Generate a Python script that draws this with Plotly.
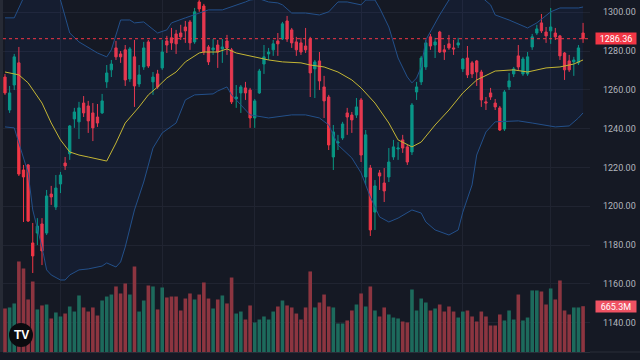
import plotly.graph_objects as go

# ---------------- data ----------------
opens = [1266.6,1249.6,1262.5,1273.9,1218.7,1221.3,1181.1,1186.2,1190.9,1186.2,
1206.3,1199.6,1211.5,1222.3,1227.0,1245.0,1243.5,1253.2,1251.7,1248.1,
1246.0,1248.1,1264.1,1270.3,1281.6,1278.5,1280.6,1265.6,1277.0,1263.0,
1271.8,1284.7,1264.1,1268.2,1271.3,1285.2,1286.8,1288.8,1289.3,1292.4,
1295.0,1284.7,1305.3,1303.2,1282.1,1280.6,1283.1,1281.1,1285.2,1280.6,
1255.3,1258.4,1261.0,1259.9,1245.5,1258.4,1273.3,1278.5,1280.6,1285.2,
1286.2,1295.5,1290.9,1284.7,1284.2,1282.6,1286.2,1270.8,1274.9,1261.5,
1256.3,1225.4,1232.6,1235.2,1248.1,1247.0,1247.0,1254.8,1215.1,1219.7,
1197.0,1217.2,1212.0,1215.1,1225.4,1229.5,1234.2,1230.6,1228.0,1258.9,
1264.1,1271.8,1287.3,1283.1,1289.8,1280.6,1283.7,1281.6,1283.1,1270.8,
1276.4,1273.9,1274.9,1269.2,1253.8,1258.4,1253.2,1250.7,1239.8,1261.5,
1268.2,1277.5,1268.2,1268.2,1282.1,1289.3,1294.5,1289.8,1290.4,1289.3,
1287.8,1279.0,1274.9,1274.4,1273.9,1289.3]

highs = [1268.2,1262.0,1278.5,1282.1,1221.3,1221.8,1191.4,1193.9,1193.9,1208.4,
1210.5,1216.1,1217.7,1225.4,1241.9,1250.7,1253.8,1256.8,1254.3,1253.2,
1252.7,1257.9,1272.8,1275.4,1285.2,1280.0,1283.1,1282.1,1285.7,1272.8,
1284.7,1285.7,1269.2,1270.3,1285.7,1287.8,1291.9,1290.9,1293.5,1295.5,
1296.0,1302.2,1306.3,1304.3,1283.1,1286.2,1285.7,1286.2,1288.3,1281.6,
1262.5,1262.5,1264.1,1261.0,1255.3,1270.8,1283.1,1281.6,1285.7,1289.3,
1295.0,1298.1,1291.9,1287.3,1286.8,1291.9,1287.3,1275.4,1279.5,1267.2,
1257.4,1241.9,1236.8,1243.5,1250.7,1248.6,1255.8,1255.8,1239.3,1221.3,
1213.5,1218.7,1219.7,1230.0,1234.2,1233.1,1236.8,1231.6,1253.2,1264.1,
1277.5,1285.7,1288.8,1286.8,1290.4,1283.1,1288.3,1285.7,1286.8,1276.4,
1282.6,1274.9,1275.4,1270.3,1256.3,1261.0,1255.3,1251.7,1259.9,1268.7,
1271.8,1283.1,1277.0,1279.5,1288.8,1293.5,1299.1,1292.4,1302.2,1291.9,
1288.3,1279.5,1278.0,1277.0,1283.1,1294.5]

lows = [1257.4,1248.1,1259.9,1215.6,1191.9,1191.9,1165.6,1180.0,1169.7,1185.2,
1200.7,1198.1,1206.8,1218.7,1223.9,1240.4,1234.7,1246.0,1237.8,1233.6,
1240.9,1247.6,1261.0,1266.6,1275.4,1273.9,1262.0,1264.1,1251.2,1261.5,
1270.3,1271.3,1257.4,1260.5,1270.3,1279.0,1280.6,1278.5,1285.7,1284.2,
1280.6,1283.7,1300.2,1278.0,1272.8,1278.0,1271.3,1273.9,1278.0,1252.7,
1250.7,1248.1,1254.8,1240.4,1240.4,1257.9,1268.2,1275.4,1277.5,1277.5,
1285.7,1284.7,1281.6,1277.5,1278.0,1279.0,1256.3,1255.8,1259.9,1245.5,
1229.0,1218.7,1229.0,1234.2,1236.8,1237.8,1245.5,1222.8,1211.0,1184.7,
1187.8,1208.4,1202.2,1212.5,1223.9,1223.9,1227.5,1221.3,1226.4,1254.8,
1262.5,1270.3,1280.6,1276.4,1279.0,1275.4,1280.6,1278.0,1281.6,1269.2,
1266.1,1266.1,1262.0,1251.2,1249.6,1254.8,1249.6,1238.8,1238.8,1259.9,
1266.6,1270.3,1267.2,1267.2,1280.6,1288.3,1289.3,1284.2,1283.7,1285.7,
1275.4,1265.1,1269.2,1267.2,1272.8,1284.2]

closes = [1258.4,1258.4,1277.0,1216.6,1215.1,1192.4,1174.4,1189.8,1177.0,1205.3,
1204.8,1209.4,1216.1,1220.8,1241.4,1248.6,1250.7,1248.1,1244.0,1240.4,
1242.9,1254.3,1268.7,1273.3,1277.0,1277.0,1265.1,1281.1,1262.0,1267.7,
1281.6,1272.3,1266.6,1261.5,1279.5,1283.1,1284.2,1283.7,1287.3,1290.4,
1284.2,1300.2,1301.7,1279.5,1274.4,1281.6,1279.5,1282.1,1281.6,1253.8,
1256.3,1261.5,1258.4,1245.5,1254.3,1269.7,1277.0,1279.5,1283.7,1283.7,
1294.0,1286.2,1284.2,1280.6,1279.5,1280.6,1268.7,1274.4,1264.6,1254.3,
1231.6,1238.3,1233.1,1242.4,1246.0,1244.5,1251.2,1226.4,1236.8,1187.8,
1210.5,1215.6,1207.9,1222.8,1230.6,1230.0,1230.0,1222.8,1252.2,1261.5,
1276.4,1284.2,1282.6,1284.7,1279.5,1279.5,1281.6,1281.1,1284.2,1275.9,
1267.7,1268.2,1269.2,1254.8,1253.2,1256.3,1251.2,1239.3,1258.9,1264.6,
1270.8,1271.8,1275.9,1277.0,1287.3,1291.4,1290.4,1287.8,1292.4,1287.3,
1277.5,1270.3,1270.3,1275.4,1281.6,1286.36]

volumes_m = [632,647,705,1315,1213,763,1024,618,676,690,
487,574,516,559,661,588,821,647,588,647,
530,748,806,835,952,850,995,835,1242,588,
748,966,952,618,937,792,806,806,603,777,
850,763,835,1010,777,632,763,821,705,1082,
559,588,472,676,429,472,516,472,588,661,
748,676,647,559,472,647,1170,647,719,835,
661,647,414,414,458,603,690,850,661,952,
603,516,647,545,501,487,443,429,908,603,
777,719,603,632,690,588,661,588,501,588,
603,516,443,588,516,385,385,545,458,603,
472,835,458,501,894,894,879,690,923,763,
1039,603,545,647,647,665.3]

# Bollinger band readings (bar index, price)
bb_upper_idx = [0,2,4,5,9,12,14,16,20,22,23,25,27,28,30,33,35,36,39,42,44,47,49,52,53,55,57,59,60,
                62,65,68,70,72,74,77,78,80,81,83,85,87,88,89,90,91,94,96,99,103,105,106,109,113,115,
                118,120,124,125]
bb_upper = [1297.1,1297.1,1307.4,1311.5,1314.1,1306.3,1289.3,1284.7,1279.0,1277.0,1280.6,1296.0,
            1296.0,1294.5,1295.0,1289.3,1290.9,1294.5,1297.1,1299.6,1301.2,1301.2,1302.7,1305.3,
            1306.3,1306.9,1305.3,1304.8,1303.8,1299.6,1299.6,1298.6,1300.2,1305.3,1305.3,1303.8,
            1306.3,1306.3,1302.2,1292.4,1276.4,1266.6,1263.6,1266.1,1271.8,1285.7,1298.6,1306.3,
            1310.5,1307.9,1303.8,1298.6,1296.0,1291.9,1294.5,1300.2,1302.2,1302.2,1302.7]

bb_mid_idx = [0,3,5,8,10,12,14,16,18,22,24,26,29,31,33,35,37,39,42,43,46,48,50,54,57,60,64,66,69,
              72,75,77,80,83,85,88,90,93,96,99,102,106,110,113,117,120,123,125]
bb_mid = [1269.2,1267.7,1263.6,1253.2,1242.9,1234.2,1228.0,1226.4,1225.4,1223.3,1232.6,1242.9,
          1251.2,1257.4,1261.5,1266.1,1269.2,1274.4,1279.0,1279.5,1279.5,1281.1,1279.0,1277.0,
          1275.4,1274.4,1273.9,1272.8,1271.8,1269.2,1265.1,1261.0,1253.2,1242.9,1234.2,1230.6,
          1233.1,1241.9,1249.6,1258.4,1265.1,1269.7,1270.3,1269.2,1271.3,1271.8,1273.3,1275.4]

bb_lower_idx = [0,2,3,5,6,8,9,10,12,13,14,16,18,21,22,24,25,26,28,30,32,34,37,39,41,45,46,48,49,
                53,57,62,65,68,70,72,75,77,79,81,83,85,88,90,91,93,96,98,99,101,102,104,106,111,
                114,119,122,124,125]
bb_lower = [1240.9,1240.4,1232.6,1217.2,1198.1,1179.0,1167.2,1164.6,1162.0,1162.0,1164.6,1167.2,
            1167.7,1169.2,1170.8,1168.7,1171.3,1179.0,1198.1,1212.5,1230.0,1237.8,1242.9,1254.8,
            1257.4,1257.9,1259.4,1261.5,1257.4,1247.1,1245.5,1247.1,1247.1,1245.5,1241.9,1231.6,
            1224.9,1217.2,1204.8,1194.5,1191.9,1193.9,1198.1,1196.5,1191.9,1187.8,1185.2,1187.8,
            1197.0,1211.0,1226.4,1238.3,1243.5,1244.0,1242.9,1240.9,1241.4,1245.5,1248.1]

tick_idx = [12, 34, 54, 77, 99, 118]
tick_labels = ["Feb 03", "Mar 03", "Apr 01", "May 01", "Jun 02", "Jul 01"]

price_ticks = [1140, 1160, 1180, 1200, 1220, 1240, 1260, 1280, 1300]

# ---------------- styling ----------------
BG = "#151924"
GRID = "#202431"
TXT = "#b2b5be"
UP = "#089981"
DN = "#f23645"
UP_VOL = "#1d6a5c"
DN_VOL = "#8c3540"
BAND = "#23508a"
MID = "#c4b634"

x = list(range(len(closes)))
vol_colors = [UP_VOL if c >= o else DN_VOL for o, c in zip(opens, closes)]

fig = go.Figure()

fig.add_trace(go.Bar(
    x=x, y=volumes_m, marker=dict(color=vol_colors, line=dict(width=0)),
    yaxis="y2", hoverinfo="skip", showlegend=False))

fig.add_trace(go.Scatter(
    x=bb_upper_idx, y=bb_upper, mode="lines", line=dict(color=BAND, width=1),
    hoverinfo="skip", showlegend=False))
fig.add_trace(go.Scatter(
    x=bb_lower_idx, y=bb_lower, mode="lines", line=dict(color=BAND, width=1),
    fill="tonexty", fillcolor="rgba(41,98,255,0.06)",
    hoverinfo="skip", showlegend=False))
fig.add_trace(go.Scatter(
    x=bb_mid_idx, y=bb_mid, mode="lines", line=dict(color=MID, width=1),
    hoverinfo="skip", showlegend=False))

fig.add_trace(go.Candlestick(
    x=x, open=opens, high=highs, low=lows, close=closes,
    increasing=dict(line=dict(color=UP, width=1), fillcolor=UP),
    decreasing=dict(line=dict(color=DN, width=1), fillcolor=DN),
    whiskerwidth=0, showlegend=False, hoverinfo="skip"))

last = closes[-1]
last_vol = volumes_m[-1]

FONT = "Roboto, Liberation Sans, sans-serif"

fig.update_layout(
    width=640, height=360,
    margin=dict(l=3, r=50, t=0, b=8, autoexpand=False),
    paper_bgcolor=BG, plot_bgcolor=BG,
    font=dict(family=FONT, size=9, color=TXT),
    bargap=0.22,
    xaxis=dict(range=[-0.43, 126.5], rangeslider=dict(visible=False), automargin=False,
               tickvals=tick_idx, ticktext=tick_labels, showgrid=True, gridcolor=GRID,
               gridwidth=1, zeroline=False, showline=True, linecolor="#2a2e39",
               ticks="", tickfont=dict(size=10, color=TXT), ticklabelstandoff=3,
               fixedrange=True),
    yaxis=dict(side="right", range=[1124.9, 1306.3], tickvals=price_ticks, automargin=False,
               tickformat=".2f", showgrid=True, gridcolor=GRID, zeroline=False,
               ticks="", tickfont=dict(size=9, color=TXT), ticklabelstandoff=12,
               fixedrange=True),
    yaxis2=dict(overlaying="y", range=[0, 5113], visible=False, fixedrange=True,
                automargin=False),
    shapes=[
        dict(type="line", xref="paper", yref="y", x0=0, x1=1, y0=last, y1=last,
             line=dict(color=DN, width=1, dash="dot")),
        dict(type="line", xref="paper", yref="paper", x0=1, x1=1.09, y0=0, y1=0,
             line=dict(color="#2a2e39", width=1)),
        dict(type="rect", xref="paper", yref="paper", x0=-0.0052, x1=0, y0=0, y1=1,
             fillcolor="#262a35", line=dict(width=0)),
        dict(type="circle", xref="paper", yref="paper", x0=0.0102, x1=0.0511,
             y0=0.0142, y1=0.0824, fillcolor="#0b0b0f", line=dict(width=0)),
    ],
    annotations=[
        dict(xref="paper", yref="y", x=1, y=last, xanchor="left", yanchor="middle",
             xshift=5, text=f"{last:.2f}", showarrow=False, bgcolor=DN,
             font=dict(color="white", size=9, family=FONT), width=40, height=11,
             borderpad=0),
        dict(xref="paper", yref="y2", x=1, y=last_vol, xanchor="left", yanchor="middle",
             xshift=5, text=f"{last_vol:.1f}M", showarrow=False, bgcolor="#ef5263",
             font=dict(color="white", size=9, family=FONT), width=40, height=11,
             borderpad=0),
        dict(xref="paper", yref="paper", x=0.0307, y=0.0483, xanchor="center",
             yanchor="middle", text="<b>TV</b>", showarrow=False,
             font=dict(color="white", size=12, family="Liberation Sans, sans-serif")),
    ],
)

fig.write_html("out.html", config={"displayModeBar": False},
               post_script="document.body.style.margin='0';document.body.style.overflow='hidden';")
